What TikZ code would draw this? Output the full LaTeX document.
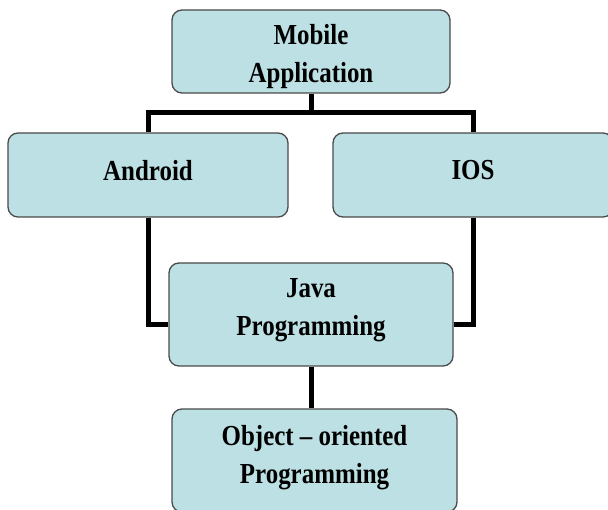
\documentclass[tikz,border=0pt]{standalone}
\usepackage{fontspec}
\setmainfont[FakeStretch=0.86]{Liberation Serif}
\usepackage{tikz}
\usetikzlibrary{ calc, positioning }
\definecolor{boxfill}{HTML}{BCE0E3}
\definecolor{boxline}{HTML}{4A4A4A}
\tikzset{
every node/.style={inner sep=1pt},
topic/.style={draw=boxline, fill=boxfill, line width=1.3pt, rounded corners=10pt}, % the blue boxes
words/.style={align=center, font=\bfseries\fontsize{29}{38}\selectfont}, % text inside the boxes
link/.style={line width=5pt, black}, % the thick connectors
}
\begin{document}
\begin{tikzpicture}[x=1pt,y=-1pt]
  \useasboundingbox (0,0) rectangle (608,510);
  \node[topic, minimum width=278pt, minimum height=83pt,
    label={[words, yshift=-5.5pt]center:Mobile\\Application}] (mobile) at (311,51.5) {};
  \node[topic, minimum width=280pt, minimum height=84pt,
    label={[words, yshift=4.5pt]center:Android}] (android) at (148,175) {};
  \node[topic, minimum width=280pt, minimum height=84pt,
    label={[words, yshift=4.5pt]center:IOS}] (ios) at (473,175) {};
  \node[topic, minimum width=284pt, minimum height=103pt,
    label={[words, yshift=4pt]center:Java\\Programming}] (java) at (311,314.5) {};
  \node[topic, minimum width=285pt, minimum height=103pt,
    label={[words, yshift=3pt]center:Object -- oriented\\Programming}] (oop) at (314.5,460.5) {};

  % bends of the connectors
  \coordinate (lbar) at (148,113);
  \coordinate (rbar) at (473,113);
  \coordinate (ljava) at (148,325);
  \coordinate (rjava) at (473,325);

  \draw[link] (mobile.south) -- (mobile.south |- lbar);
  \draw[link] (android.north -| lbar) -- (lbar) -- (rbar) -- (ios.north -| rbar);
  \draw[link] (android.south -| ljava) -- (ljava) -- (java.west |- ljava);
  \draw[link] (ios.south -| rjava) -- (rjava) -- (java.east |- rjava);
  \draw[link] (java.south) -- (oop.north -| java.south);
\end{tikzpicture}
\end{document}
